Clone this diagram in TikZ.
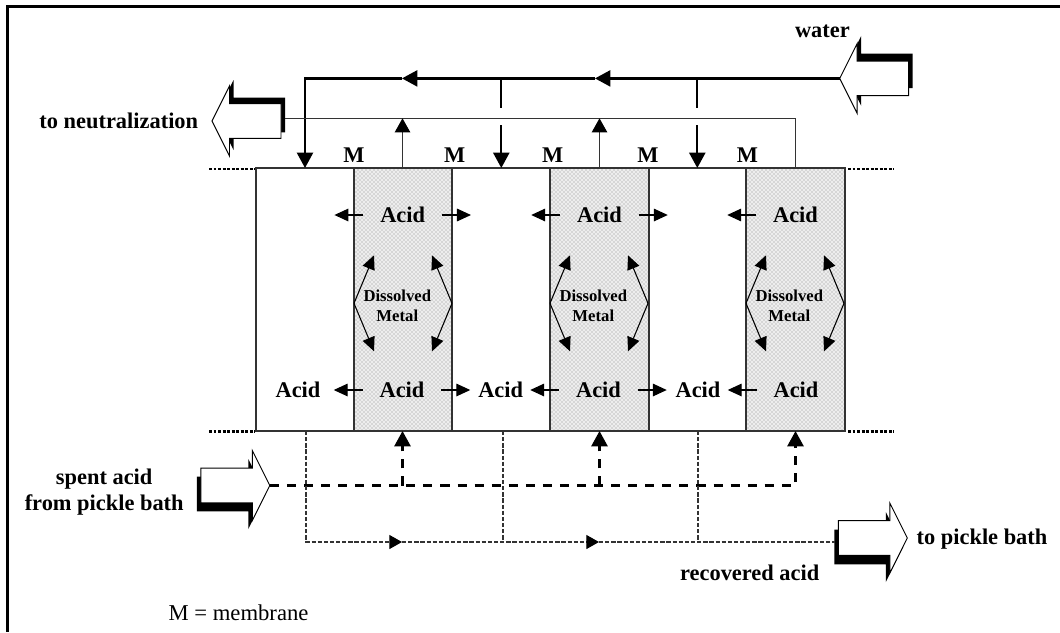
\documentclass[tikz,border=0pt]{standalone}
\usepackage{fontspec}
\setmainfont{Liberation Serif}
\usetikzlibrary{arrows.meta,patterns}
\tikzset{
    boldtext/.style={font=\fontsize{16.8}{20}\selectfont\bfseries, inner sep=0pt},
    metaltext/.style={font=\fontsize{12.5}{15}\selectfont\bfseries, inner sep=0pt, align=center},
    acidbox/.style={boldtext, minimum width=58.5pt},
    waterline/.style={line width=1.7pt},
    thinline/.style={line width=1pt, black!80},
    feedline/.style={line width=2pt, dash pattern=on 6.8pt off 6pt},
    returnline/.style={line width=0.9pt, black!80, dash pattern=on 3.2pt off 1.4pt},
    dotline/.style={line width=2pt, dash pattern=on 2.2pt off 1.2pt},
    smallarrow/.style={line width=0.8pt, ->, >={Stealth[inset=0pt,length=10.5pt,width=9.5pt]}},
    midarrow/.style={returnline, ->, >={Stealth[inset=0pt,length=9.5pt,width=10.5pt,black]}},
}
\def\blockpath{(0,0) -- (17.5,-35) -- (17.5,-17.3) -- (69,-17.3) -- (69,17.3) -- (17.5,17.3) -- (17.5,35) -- cycle}

\begin{document}
\begin{tikzpicture}[x=0.75pt, y=-0.75pt, >={Stealth[inset=0pt,length=11.5pt,width=12pt]}]
\useasboundingbox (0,0) rectangle (1060,632);

% Frame
\draw[line width=1.6pt] (1060,6.5) -- (7.5,6.5) -- (7.5,632);

% Cells
\foreach \x in {354,550,746}{
    \fill[black!7] (\x,168) rectangle ({\x+98.5},431);
    \fill[pattern=crosshatch dots, pattern color=black!45] (\x,168) rectangle ({\x+98.5},431);
}
\draw[thinline] (256,168) rectangle (845,431);
\foreach \x in {354,452,550,649,746}{
    \draw[line width=1.1pt, black!80] (\x,168) -- (\x,431);
}
\foreach \y in {169,431.5}{
    \draw[dotline] (209,\y) -- (255,\y);
    \draw[dotline] (848,\y) -- (894,\y);
}

% Block arrows
\foreach \n/\x/\y/\d/\s in {neut/212/121/1/-6, wat/839.7/78.4/1/-7.5, spent/269.8/485.5/-1/8.5, back/907.3/538/-1/9}{
    \coordinate (\n tip) at (\x,\y);
    \begin{scope}[shift={(\x,\y)}, xscale=\d]
        \fill[shift={(4,\s)}] \blockpath;
        \draw[line width=0.7pt, fill=white] \blockpath;
    \end{scope}
}
\coordinate (neuttail) at (285,118.3);
\coordinate (backtail) at (834.6,542);

% Points along the cells
\foreach \i/\x in {1/402.5,2/599.5,3/795.5}{
    \coordinate (top\i) at (\x,168);
    \coordinate (feed\i) at (\x,431);
}
\foreach \i/\x in {1/501.3,2/697.3}{
    \coordinate (drop\i) at (\x,78.4);
    \coordinate (fill\i) at (\x,168);
}
\foreach \i/\x in {1/306,2/503,3/698}{
    \coordinate (out\i) at (\x,431);
}
\coordinate (watA) at (595,78.4);
\coordinate (watB) at (402,78.4);
\coordinate (fill0) at (305,168);
\coordinate (retA) at (402,542);
\coordinate (retB) at (599,542);

% Water
\draw[waterline,->] (wattip) -- (watA);
\draw[waterline,->] (watA) -- (watB);
\draw[waterline,->] (watB) -| (fill0);
\foreach \i in {1,2}{
    \draw[waterline] (drop\i) -- ++(0,30);
    \draw[waterline,->] (fill\i) ++(0,-43) -- (fill\i);
}

% Waste
\draw[thinline] (neuttail) -| (top3);
\foreach \i in {1,2}{
    \draw[thinline,->,>={Stealth[inset=0pt,length=10.5pt,width=11.5pt,black]}] (top\i) -- (top\i |- neuttail);
}

% Spent acid
\draw[feedline,->] (spenttip) -| (feed3);
\foreach \i in {1,2}{
    \draw[feedline,->] (feed\i |- spenttip) -- (feed\i);
}

% Recovered acid
\draw[midarrow] (out1) |- (retA);
\draw[midarrow] (retA) -- (retB);
\draw[returnline] (retB) -- (backtail);
\foreach \i in {2,3}{
    \draw[returnline] (out\i) -- (out\i |- retA);
}

% Cell labels
\foreach \i/\x/\t/\b/\c in {1/354/402.7/402/298, 2/550/599.5/598.5/500.7, 3/746/795.5/796/698}{
    \node[acidbox] (acidT\i) at (\t,215) {Acid};
    \node[acidbox] (acidB\i) at (\b,390) {Acid};
    \node[boldtext] (acidS\i) at (\c,390) {Acid};
    \node[metaltext] (metal\i) at ({\x+43.3},306) {Dissolved\\Metal};
    \coordinate (mL\i) at (\x,303.3);
    \coordinate (mR\i) at ({\x+98},303.3);
    \foreach \v in {T,B}{
        \draw[smallarrow] (acid\v\i.west) -- ++(-29,0);
        \ifnum\i<3
            \draw[smallarrow] (acid\v\i.east) -- ++(29,0);
        \fi
    }
    \foreach \s in {-48,48}{
        \draw[smallarrow] (mL\i) -- ++(20,\s);
        \draw[smallarrow] (mR\i) -- ++(-20,\s);
    }
}

% Membrane marks
\foreach \i/\x in {1/354,2/454.7,3/552.6,4/648,5/747.4}{
    \node[boldtext] (memb\i) at (\x,155.5) {M};
}

% Texts
\node[boldtext] (neutlabel) at (118.8,121) {to neutralization};
\node[boldtext] (watlabel) at (822.4,31) {water};
\node[boldtext, align=center] (spentlabel) at (104.2,492) {spent acid\\from pickle bath};
\node[boldtext] (reclabel) at (749.7,573) {recovered acid};
\node[boldtext] (backlabel) at (982,539.6) {to pickle bath};
\node[font=\fontsize{17}{20}\selectfont, inner sep=0pt] (keylabel) at (238.5,613) {M = membrane};

\end{tikzpicture}
\end{document}
